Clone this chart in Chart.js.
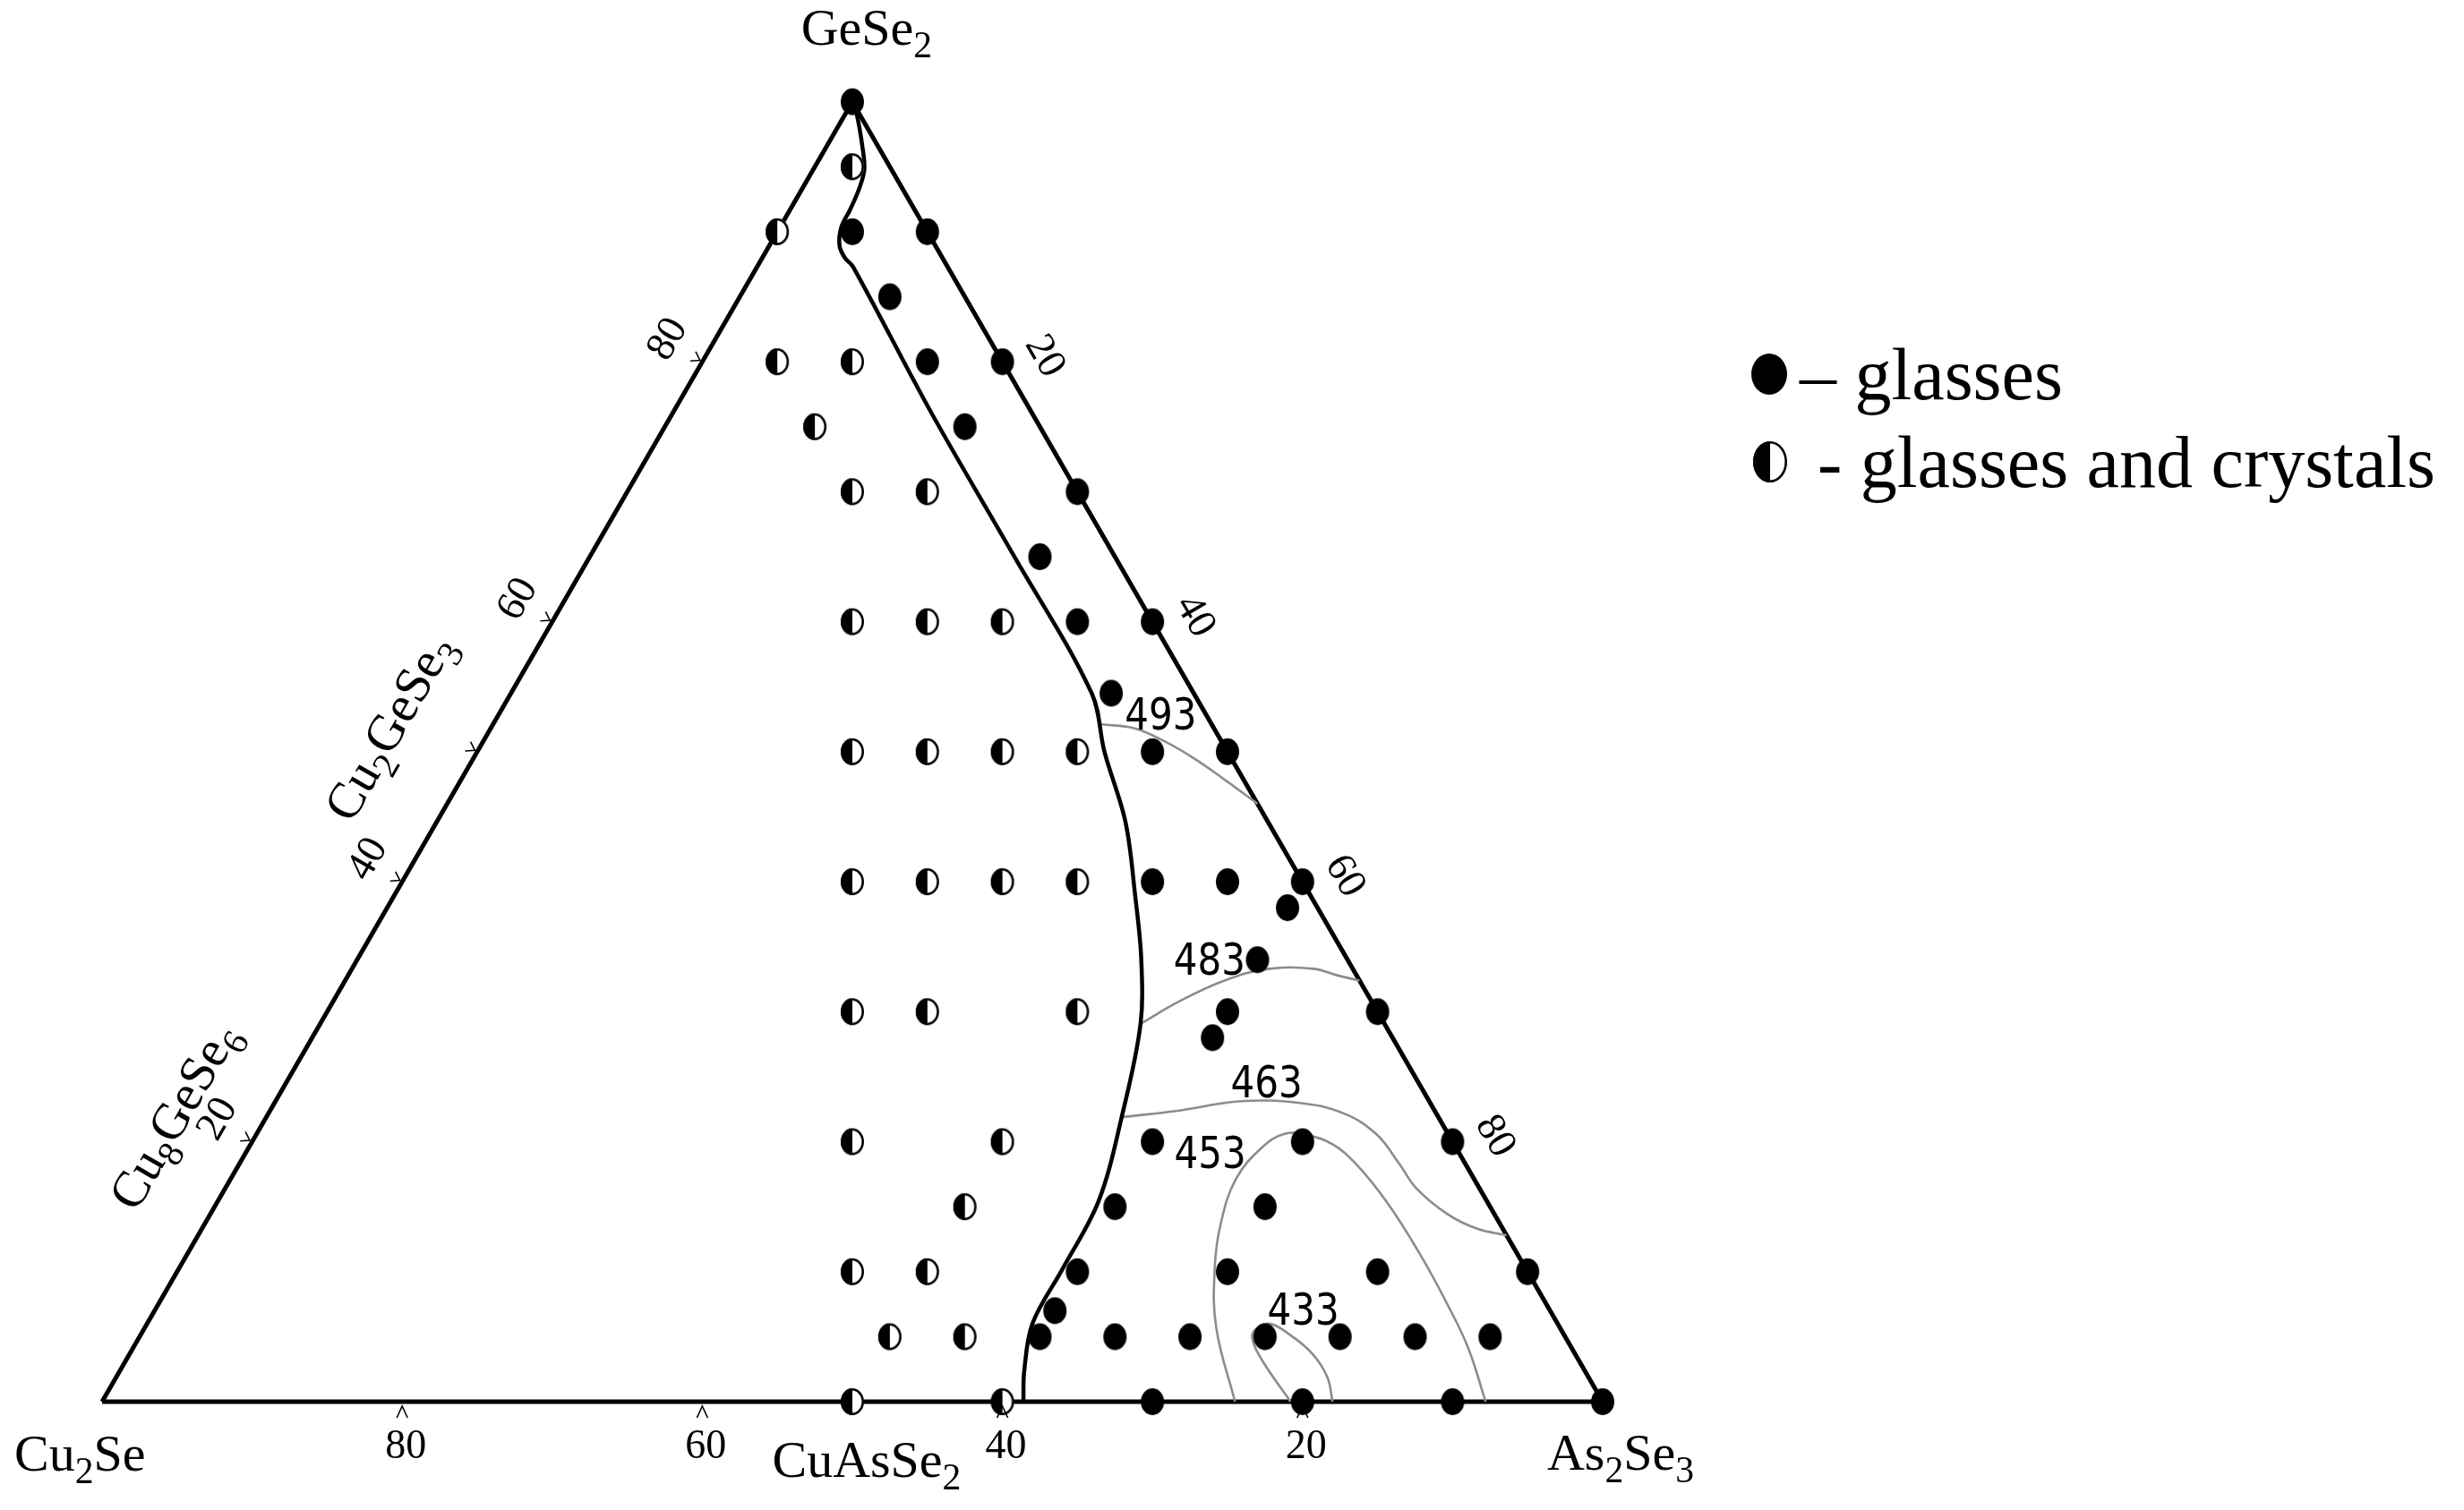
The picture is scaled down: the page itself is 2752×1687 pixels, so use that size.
<!DOCTYPE html>
<html>
<head>
<meta charset="utf-8">
<script src="https://cdn.jsdelivr.net/npm/chart.js@4.4.0/dist/chart.umd.min.js"></script>
<style>
html, body { margin: 0; padding: 0; background: #fff; }
canvas { display: block; }
</style>
</head>
<body>
<canvas id="myChart" width="2752" height="1687"></canvas>
<script>
// compositions are [As2Se3 mol%, GeSe2 mol%], Cu2Se is the rest
const glasses = [
    [0, 100],
    [5, 90], [10, 90],
    [10, 85],
    [15, 80], [20, 80],
    [20, 75],
    [30, 70],
    [30, 65],
    [35, 60], [40, 60],
    [40, 54.5],
    [45, 50], [50, 50],
    [50, 40], [55, 40], [60, 40],
    [60, 38], [60, 34],
    [60, 30], [70, 30],
    [60, 28],
    [60, 20], [70, 20], [80, 20],
    [60, 15], [70, 15],
    [60, 10], [70, 10], [80, 10], [90, 10],
    [60, 7],
    [60, 5], [65, 5], [70, 5], [75, 5], [80, 5], [85, 5], [90, 5],
    [70, 0], [80, 0], [90, 0], [100, 0]
];
const glassesAndCrystals = [
    [2.5, 95], [0, 90],
    [5, 80], [10, 80], [10, 75],
    [15, 70], [20, 70],
    [20, 60], [25, 60], [30, 60],
    [25, 50], [30, 50], [35, 50], [40, 50],
    [30, 40], [35, 40], [40, 40], [45, 40],
    [35, 30], [40, 30], [50, 30],
    [40, 20], [50, 20],
    [50, 15],
    [45, 10], [50, 10],
    [50, 5], [55, 5],
    [50, 0], [60, 0]
];
const glassBoundary = [
    [0, 100], [0.8, 99], [2.3, 96.7], [3.4, 94.8], [3.8, 93.3], [4.0, 91.7], [4.1, 90.3],
    [4.7, 88.9], [5.5, 88.0], [6.4, 87.3], [17.2, 76.1], [28.0, 65.3], [38.7, 54.5],
    [41.8, 50.0], [45.9, 44.6], [49.4, 38.9], [52.2, 34.1], [54.7, 29.0], [57.0, 21.9],
    [58.7, 15.4], [58.9, 10.2], [59.0, 6.0], [60.3, 2.3], [61.4, 0]
];
const iso493 = [[40.5, 52.1], [42.9, 51.8], [45.4, 50.8], [48.0, 49.5], [50.8, 47.9], [54.0, 46.0]];
const iso483 = [[54.7, 29.1], [56.4, 30.8], [58.6, 32.4], [61.1, 33.3], [64.1, 33.3], [65.9, 32.8], [67.6, 32.4]];
const iso463 = [[57.1, 21.9], [60.6, 22.4], [64.2, 23.1], [68.2, 23.0], [71.6, 22.2], [74.6, 20.6],
    [77.3, 18.3], [79.4, 16.4], [82.5, 14.4], [85.0, 13.3], [87.2, 12.8]];
const iso453 = [[75.5, 0], [71.4, 5.7], [69.0, 10.3], [67.7, 13.7], [67.0, 17.1], [67.5, 19.5], [68.5, 20.6],
    [70.1, 20.5], [72.1, 19.8], [74.4, 18.3], [78.0, 15.3], [82.1, 11.4], [85.9, 7.5], [89.0, 4.1], [92.2, 0]];
const iso433 = [[79.2, 0], [75.7, 3.2], [74.2, 4.9], [74.1, 5.6], [74.8, 6.0], [76.5, 5.2], [78.8, 3.7], [80.7, 1.9], [82.0, 0]];

const isoLabels = ['493', '483', '463', '453', '433'];
const isoLabelAt = [[44.1, 52.9], [56.8, 34.0], [65.3, 24.6], [64.3, 19.1], [76.5, 7.1]];
const edgeTicks = [20, 40, 60, 80];
const vertexNames = ['Cu2Se', 'As2Se3', 'GeSe2'];
const midCompounds = ['CuAsSe2', 'Cu2GeSe3', 'Cu8GeSe6'];
const legendLabels = ['\u2013 glasses', '- glasses and crystals'];

const H = Math.sqrt(3) / 2;
const toXY = p => ({ x: p[0] + p[1] / 2, y: p[1] * H });
const triangle = [[0, 0], [100, 0], [0, 100], [0, 0]];

function makeMarker(rx, ry, half) {
    const c = document.createElement('canvas');
    c.width = 2 * rx + 4;
    c.height = 2 * ry + 4;
    const g = c.getContext('2d');
    const cx = c.width / 2, cy = c.height / 2;
    g.beginPath();
    g.ellipse(cx, cy, rx, ry, 0, 0, Math.PI * 2);
    if (half) {
        g.fillStyle = '#fff';
        g.fill();
        g.beginPath();
        g.ellipse(cx, cy, rx, ry, 0, Math.PI / 2, Math.PI * 1.5);
        g.closePath();
        g.fillStyle = '#000';
        g.fill();
        g.beginPath();
        g.ellipse(cx, cy, rx - 1.3, ry - 1.3, 0, 0, Math.PI * 2);
        g.lineWidth = 2.6;
        g.strokeStyle = '#000';
        g.stroke();
    } else {
        g.fillStyle = '#000';
        g.fill();
    }
    return c;
}
const fullDot = makeMarker(13, 15, false);
const halfDot = makeMarker(13, 15, true);

const SERIF = '"Liberation Serif", "Times New Roman", serif';

// draws a formula with every digit as a subscript
function chem(ctx, text, x, y, size, align) {
    const parts = text.split(/(\d+)/).filter(s => s.length);
    const sub = size * 0.72;
    let total = 0;
    const widths = parts.map(p => {
        ctx.font = (/^\d+$/.test(p) ? sub : size) + 'px ' + SERIF;
        const w = ctx.measureText(p).width;
        total += w;
        return w;
    });
    let cx = align === 'center' ? x - total / 2 : (align === 'right' ? x - total : x);
    ctx.textAlign = 'left';
    ctx.textBaseline = 'alphabetic';
    parts.forEach((p, i) => {
        const isSub = /^\d+$/.test(p);
        ctx.font = (isSub ? sub : size) + 'px ' + SERIF;
        ctx.fillText(p, cx, isSub ? y + size * 0.24 : y);
        cx += widths[i];
    });
}

const decorations = {
    id: 'decorations',
    afterDraw(chart) {
        const ctx = chart.ctx;
        const xs = chart.scales.x, ys = chart.scales.y;
        const px = (a, g) => {
            const p = toXY([a, g]);
            return [xs.getPixelForValue(p.x), ys.getPixelForValue(p.y)];
        };
        ctx.save();
        ctx.fillStyle = '#000';
        ctx.strokeStyle = '#000';

        // small chevron ticks
        ctx.lineWidth = 1.6;
        edgeTicks.forEach(t => {
            const [bx, by] = px(t, 0);
            ctx.beginPath();
            ctx.moveTo(bx - 6, by + 18);
            ctx.lineTo(bx, by + 5);
            ctx.lineTo(bx + 6, by + 18);
            ctx.stroke();
        });
        [20, 40, 50, 60, 80].forEach(t => {
            const [lx, ly] = px(0, t);
            ctx.beginPath();
            ctx.moveTo(lx - 0.866 * 12 - 0.5 * 6, ly - 0.5 * 12 + 0.866 * 6);
            ctx.lineTo(lx - 0.866 * 3, ly - 0.5 * 3);
            ctx.lineTo(lx - 0.866 * 12 + 0.5 * 6, ly - 0.5 * 12 - 0.866 * 6);
            ctx.stroke();
        });

        // tick numbers
        ctx.font = '46px ' + SERIF;
        ctx.textAlign = 'center';
        ctx.textBaseline = 'middle';
        edgeTicks.forEach(t => {
            const [bx, by] = px(t, 0);
            ctx.textBaseline = 'alphabetic';
            ctx.fillText(String(100 - t), bx + 4, by + 63);
            ctx.textBaseline = 'middle';

            const [lx, ly] = px(0, t);
            ctx.save();
            ctx.translate(lx - 38, ly - 25);
            ctx.rotate(-Math.PI / 3);
            ctx.fillText(String(t), 0, 0);
            ctx.restore();

            const [rx, ry] = px(t, 100 - t);
            ctx.save();
            ctx.translate(rx + 47, ry - 6);
            ctx.rotate(Math.PI / 3);
            ctx.fillText(String(t), 0, 0);
            ctx.restore();
        });

        // corner and compound names
        const [c0x, c0y] = px(0, 0);
        chem(ctx, vertexNames[0], c0x - 98, c0y + 77, 58, 'left');
        const [c1x, c1y] = px(100, 0);
        chem(ctx, vertexNames[1], c1x - 62, c1y + 76, 58, 'left');
        const [c2x, c2y] = px(0, 100);
        chem(ctx, vertexNames[2], c2x + 16, c2y - 64, 58, 'center');
        const [m0x, m0y] = px(50, 0);
        chem(ctx, midCompounds[0], m0x + 16, m0y + 84, 58, 'center');

        [[midCompounds[1], -6.8, 51.9], [midCompounds[2], -6.2, 22.0]].forEach(([name, a, g]) => {
            const [qx, qy] = px(a, g);
            ctx.save();
            ctx.translate(qx, qy);
            ctx.rotate(-Math.PI / 3);
            chem(ctx, name, 0, 18, 57, 'center');
            ctx.restore();
        });

        // isotherm labels
        ctx.font = '42px "DejaVu Sans", sans-serif';
        ctx.textAlign = 'center';
        ctx.textBaseline = 'middle';
        isoLabels.forEach((lab, i) => {
            const [tx, ty] = px(isoLabelAt[i][0], isoLabelAt[i][1]);
            ctx.save();
            ctx.translate(tx, ty + 4);
            ctx.scale(1, 1.18);
            ctx.fillText(lab, 0, 0);
            ctx.restore();
        });

        // legend
        const bigFull = makeMarker(20, 23, false);
        const bigHalf = makeMarker(19, 23, true);
        ctx.drawImage(bigFull, 1976 - bigFull.width / 2, 418 - bigFull.height / 2);
        ctx.drawImage(bigHalf, 1977 - bigHalf.width / 2, 516 - bigHalf.height / 2);
        ctx.font = '82px ' + SERIF;
        ctx.textAlign = 'left';
        ctx.textBaseline = 'alphabetic';
        ctx.fillText(legendLabels[0], 2010, 446);
        ctx.fillText(legendLabels[1], 2030, 544);
        ctx.restore();
    }
};

const lineSet = (pts, color, width, tension) => ({
    data: pts.map(toXY),
    showLine: true,
    borderColor: color,
    borderWidth: width,
    pointRadius: 0,
    tension: tension,
    fill: false
});

new Chart(document.getElementById('myChart'), {
    type: 'scatter',
    data: {
        datasets: [
            { data: glasses.map(toXY), pointStyle: fullDot, pointRadius: 13, showLine: false },
            { data: glassesAndCrystals.map(toXY), pointStyle: halfDot, pointRadius: 13, showLine: false },
            lineSet(glassBoundary, '#000', 4.5, 0.35),
            lineSet(iso493, '#8c8c8c', 2.6, 0.4),
            lineSet(iso483, '#8c8c8c', 2.6, 0.4),
            lineSet(iso463, '#8c8c8c', 2.6, 0.4),
            lineSet(iso453, '#8c8c8c', 2.6, 0.4),
            lineSet(iso433, '#8c8c8c', 2.6, 0.4),
            lineSet(triangle, '#000', 5, 0)
        ]
    },
    options: {
        responsive: false,
        devicePixelRatio: 1,
        animation: false,
        events: [],
        layout: { padding: 0, autoPadding: false },
        plugins: {
            legend: { display: false },
            tooltip: { enabled: false }
        },
        scales: {
            x: { type: 'linear', display: false, min: -6.80, max: 157.40 },
            y: { type: 'linear', display: false, min: -7.215, max: 93.38 }
        }
    },
    plugins: [decorations]
});
</script>
</body>
</html>
